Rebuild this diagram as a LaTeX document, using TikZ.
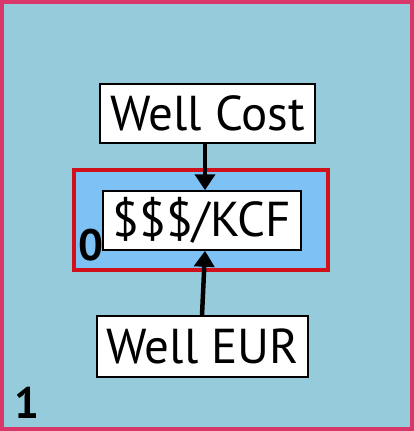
\documentclass[tikz,border=0pt]{standalone}
\usepackage{fontspec}
\setmainfont{PT Sans}
\usetikzlibrary{arrows.meta}
\definecolor{pagebg}{HTML}{96CBDC}
\definecolor{pageframe}{HTML}{D9366A}
\definecolor{groupbg}{HTML}{7DC1F5}
\definecolor{groupframe}{HTML}{D0101A}
\tikzset{
  textbox/.style={draw=black, line width=1.5pt, fill=white, inner sep=0pt, font=\fontsize{49}{52}\selectfont},
  link/.style={line width=4.5pt, -{Triangle[length=16pt,width=20pt]}},
  tag/.style={font=\bfseries\fontsize{44}{46}\selectfont, inner sep=0pt}
}
\begin{document}
\begin{tikzpicture}[x=1pt,y=-1pt]
  \useasboundingbox (0,0) rectangle (414,431);
  % page
  \draw[fill=pagebg, draw=pageframe, line width=4pt] (2,2) rectangle (412,429);
  % group
  \draw[fill=groupbg, draw=groupframe, line width=3.5pt] (74,170) rectangle (328,270);
  % boxes
  \node[textbox, minimum width=215pt, minimum height=59pt] (cost) at (207.5,113.5) {Well Cost};
  \node[textbox, minimum width=198pt, minimum height=59pt] (kcf) at (202,220.5) {\$\$\$/KCF};
  \node[textbox, minimum width=211pt, minimum height=61pt] (eur) at (202.5,346.5) {Well EUR};
  % labels
  \node[tag] (zero) at (91,245) {0};
  \node[tag] (one) at (27,403) {1};
  % connectors
  \draw[link] (cost.south -| 205,0) -- (kcf.north -| 205,0);
  \draw[link] (eur.north -| 202,0) -- (kcf.south -| 205,0);
\end{tikzpicture}
\end{document}
